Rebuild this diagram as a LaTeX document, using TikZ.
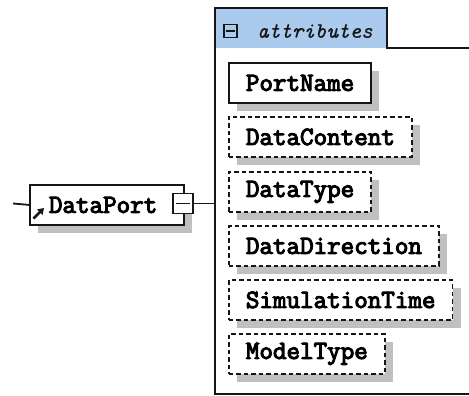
\documentclass[tikz,border=0pt]{standalone}
\usepackage{fontspec}
\newfontfamily\elemfont{Latin Modern Mono}[FakeBold=4]
\newfontfamily\groupfont{Latin Modern Mono}[FakeBold=0.6]
\usetikzlibrary{shadows,arrows.meta}
\definecolor{tabblue}{RGB}{170,202,238}
\definecolor{shade}{RGB}{192,192,192}
\definecolor{ink}{RGB}{22,22,22}
\tikzset{
  elem/.style={draw=ink, line width=1.8pt, fill=white, anchor=north west,
    minimum height=40pt, inner xsep=17pt, inner ysep=0pt,
    font=\elemfont\fontsize{26.3}{26.3}\selectfont,
    drop shadow={shadow xshift=8pt, shadow yshift=-8pt, fill=shade, opacity=1}},
  optional/.style={dash pattern=on 4.5pt off 3pt},
  frame/.style={draw=ink, line width=1.8pt},
  wire/.style={draw=ink, line width=1.8pt},
  togglebox/.style={draw=ink, line width=1.8pt, inner sep=0pt}
}
\begin{document}
\begin{tikzpicture}[x=1pt,y=-1pt]
\useasboundingbox (0,0) rectangle (469,396);

% attributes group: tab and frame
\fill[tabblue] (215,8) rectangle (387,48);
\draw[frame] (469,48) -- (387,48) -- (387,8) -- (215,8) -- (215,394) -- (469,394);
\node[togglebox, fill=tabblue, minimum size=13pt] (tabminus) at (230.5,31) {};
\draw[wire] ([xshift=3pt]tabminus.west) -- ([xshift=-3pt]tabminus.east);
\node[anchor=west, inner sep=0pt, text=ink,
      font=\groupfont\itshape\fontsize{22}{22}\selectfont] (tabtitle) at (257,31) {attributes};

% attribute elements
\node[elem] (portname) at (228,62) {PortName};
\node[elem,optional] (datacontent) at (228,116) {DataContent};
\node[elem,optional] (datatype) at (228,171) {DataType};
\node[elem,optional] (datadirection) at (228,225) {DataDirection};
\node[elem,optional] (simtime) at (228,279) {SimulationTime};
\node[elem,optional] (modeltype) at (228,333) {ModelType};

% DataPort element
\node[elem, inner xsep=19pt, text width=116pt, align=left] (dataport) at (29,184) {DataPort};
\node[togglebox, fill=white, minimum size=20pt] (dpminus) at (183,203.5) {};
\draw[wire] ([xshift=3.5pt]dpminus.west) -- ([xshift=-3.5pt]dpminus.east);
\draw[line width=2.6pt, ink, -{Triangle[length=6pt,width=7.5pt]}] (33.5,218.5) -- (44,208);

% connectors
\coordinate (inlet) at (13,203.5);
\coordinate (joint) at (215,203.5);
\draw[wire] (inlet) -- (dataport.west);
\draw[wire] (dpminus.east) -- (joint);
\end{tikzpicture}
\end{document}
